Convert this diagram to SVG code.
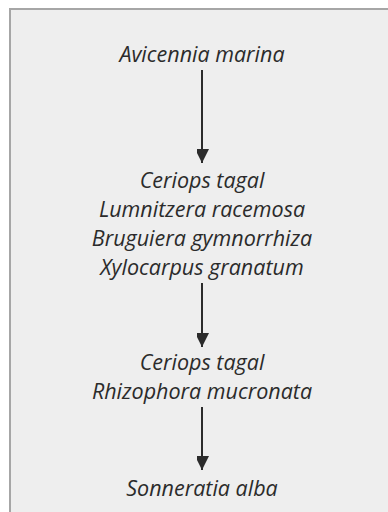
<svg xmlns="http://www.w3.org/2000/svg" width="388" height="512" viewBox="0 0 388 512">
<style>
.t{font-family:"Open Sans","Noto Sans","Liberation Sans",sans-serif;font-style:italic;font-size:21.5px;fill:#2b2b2b;text-anchor:middle}
.c{stroke:#2b2b2b;stroke-width:2;fill:none}
</style>
<defs>
<marker id="ah" markerUnits="userSpaceOnUse" markerWidth="16" markerHeight="12" refX="14" refY="7" orient="auto">
<path d="M0,0 L14,7 L0,14 Z" fill="#2b2b2b"/>
</marker>
</defs>
<rect x="0" y="0" width="388" height="512" fill="#ffffff"/>
<rect x="10" y="9" width="390" height="520" fill="#eeeeee" stroke="#a6a6a6" stroke-width="2"/>
<g id="connectors">
<line class="c" x1="202" y1="70" x2="202" y2="163" marker-end="url(#ah)"/>
<line class="c" x1="202" y1="283" x2="202" y2="347" marker-end="url(#ah)"/>
<line class="c" x1="202" y1="407" x2="202" y2="470" marker-end="url(#ah)"/>
</g>
<g id="n1"><text class="t" x="202" y="62">Avicennia marina</text></g>
<g id="n2">
<text class="t" x="202" y="188">Ceriops tagal</text>
<text class="t" x="202" y="217">Lumnitzera racemosa</text>
<text class="t" x="202" y="246">Bruguiera gymnorrhiza</text>
<text class="t" x="202" y="275">Xylocarpus granatum</text>
</g>
<g id="n3">
<text class="t" x="202" y="370">Ceriops tagal</text>
<text class="t" x="202" y="399">Rhizophora mucronata</text>
</g>
<g id="n4"><text class="t" x="202" y="496">Sonneratia alba</text></g>
</svg>
